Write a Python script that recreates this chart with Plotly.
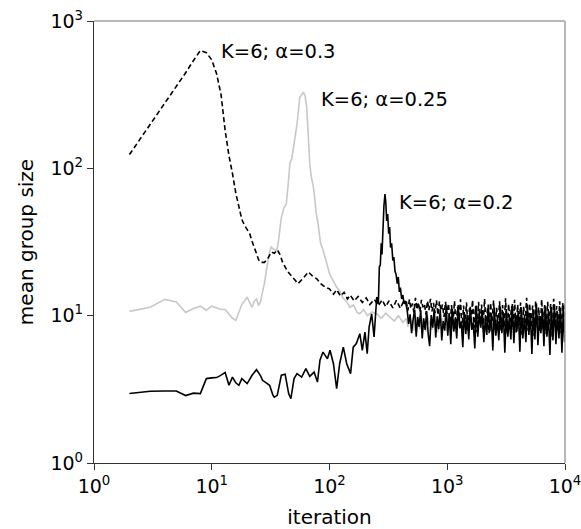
import numpy as np
import plotly.graph_objects as go

# ---------------- data ----------------
# alpha = 0.3 (dashed black), early part
iter_a03 = [2, 3, 4, 5, 6, 7, 8, 9, 10, 11, 12, 13, 14, 15, 16, 17, 18, 19, 20, 21,
            22, 23, 24, 25, 26, 28, 30, 32, 34, 36, 38, 40, 44, 48, 54, 60, 66, 72, 78, 84,
            92, 100, 108, 115, 124, 133, 142, 150, 162, 175, 190, 205, 220, 240, 260, 280,
            300, 320, 345, 370, 400, 425]
size_a03 = [124, 198, 276, 358, 445, 540, 630, 610, 545, 438, 315, 180, 122, 92, 68, 55, 45, 41, 38, 36,
            32, 29, 26, 24, 23, 23, 24.5, 27, 26.5, 28, 26, 23, 20, 18.3, 16.5, 18, 19.8, 18.5, 17.8, 16.5,
            15.6, 15.2, 14.0, 15.0, 13.6, 14.4, 13.0, 13.8, 12.6, 13.5, 12.3, 13.2, 11.9, 12.9, 11.7, 12.8,
            11.5, 12.6, 11.3, 12.7, 11.2, 12.5]

# alpha = 0.25 (light grey), early part
iter_a025 = [2, 3, 4, 5, 6, 7, 8, 9, 10, 11, 12, 13, 14, 15, 16, 17, 18, 19, 20, 21,
             22, 23, 24, 25, 26, 27, 28, 29, 30, 31, 32, 33, 35, 36, 37, 39, 41, 43, 45, 46,
             48, 51, 53, 56, 58, 60, 62, 64, 66, 68, 70, 73, 75, 77, 80, 84, 88, 91, 95, 100,
             105, 110, 115, 122, 130, 140, 149, 160, 172, 181, 195, 210, 230, 252, 275, 300,
             327, 355, 385, 420]
size_a025 = [10.7, 11.4, 12.9, 12.4, 10.5, 11.2, 11.6, 10.9, 11.6, 11.3, 11.0, 11.0, 10.2, 9.6, 9.3, 10.5, 11.9, 12.6, 13.4, 12.2,
             11.4, 12.6, 13.0, 11.7, 12.5, 14.5, 16.5, 20, 23.7, 27, 29.2, 28.5, 27.7, 28.5, 33, 46.5, 54, 57.5, 85, 107,
             118, 163, 200, 304, 320, 329, 310, 260, 170, 107, 88, 74.5, 62, 50, 42, 31, 28, 25, 22.5, 19.3,
             18, 17, 15.6, 14.8, 13.2, 12.4, 11.4, 11.8, 10.5, 10.3, 11.0, 10.0, 10.6, 10.3, 9.6, 10.4,
             9.8, 9.2, 10.0, 9.0]

# alpha = 0.2 (solid black), early part
iter_a02 = [2, 3, 4, 5, 6, 7, 8, 9, 10, 11, 12, 13, 14, 15, 16, 17, 18, 19, 20, 22,
            24, 26, 27, 29, 31, 33, 34, 36, 38, 39, 42, 44, 45, 47, 50, 53, 58, 63, 68, 74,
            79, 83, 88, 96, 101, 108, 115, 122, 131, 140, 151, 159, 169, 181, 190, 200, 209, 217, 228, 239,
            252, 260, 265, 270, 275, 279, 284, 290, 296, 301, 306, 312, 318, 324, 330, 337, 345, 352, 360, 368,
            376, 384, 392, 400, 410, 420, 430, 440]
size_a02 = [2.96, 3.07, 3.08, 3.08, 2.87, 2.98, 2.96, 3.74, 3.78, 3.8, 3.95, 4.12, 3.37, 3.83, 3.5, 3.37, 3.74, 3.6, 3.46, 3.94,
            4.3, 3.9, 3.64, 3.5, 3.37, 2.9, 2.8, 2.88, 3.5, 3.94, 4.0, 3.2, 2.96, 2.73, 3.74, 4.04, 3.83, 4.37, 3.87, 4.14,
            3.54, 4.98, 5.66, 5.1, 5.82, 4.72, 3.2, 4.72, 6.12, 4.72, 4.04, 6.12, 6.46, 7.55, 5.82, 7.74, 5.52, 8.37, 10.3, 7.16,
            13.4, 12.0, 21.4, 22, 31, 26, 42, 56, 67, 58, 44, 49, 36, 40, 29, 31, 23.7, 25, 20, 19,
            16.5, 18.3, 14.5, 15.5, 13.0, 13.8, 12.0, 12.6]

# late iterations, noisy band (two interleaved samplings)
iter_tail = [450, 463, 477, 491, 506, 521, 537, 553, 569, 586,
             604, 622, 640, 659, 679, 699, 720, 742, 764, 787,
             810, 834, 859, 885, 911, 938, 966, 995, 1025, 1055,
             1087, 1119, 1153, 1187, 1222, 1259, 1296, 1335, 1375, 1416,
             1458, 1501, 1546, 1592, 1640, 1689, 1739, 1791, 1844, 1899,
             1956, 2014, 2074, 2136, 2200, 2265, 2333, 2402, 2474, 2548,
             2624, 2702, 2782, 2865, 2951, 3039, 3129, 3223, 3319, 3418,
             3520, 3625, 3733, 3844, 3959, 4077, 4198, 4324, 4453, 4585,
             4722, 4863, 5008, 5157, 5311, 5469, 5632, 5800, 5973, 6151,
             6334, 6523, 6718, 6918, 7124, 7337, 7555, 7781, 8013, 8251,
             8497, 8751, 9011, 9280, 9557, 9842, 10000]

iter_tail_b = [456, 470, 484, 498, 513, 529, 545, 561, 577, 595,
               613, 631, 649, 669, 689, 709, 731, 753, 775, 798,
               822, 846, 872, 898, 924, 952, 980, 1010, 1040, 1071,
               1103, 1136, 1170, 1204, 1240, 1277, 1315, 1355, 1395, 1437,
               1479, 1523, 1569, 1616, 1664, 1714, 1765, 1817, 1871, 1927,
               1985, 2044, 2105, 2168, 2232, 2299, 2367, 2438, 2511, 2586,
               2663, 2742, 2823, 2908, 2995, 3084, 3176, 3271, 3368, 3469,
               3572, 3679, 3788, 3901, 4018, 4137, 4261, 4388, 4519, 4653,
               4792, 4935, 5082, 5234, 5390, 5550, 5716, 5886, 6062, 6242,
               6428, 6620, 6818, 7021, 7230, 7446, 7668, 7897, 8132, 8374,
               8624, 8881, 9145, 9418, 9699, 9921, 10000]

tail_a03 = [12.4, 10.8, 12.9, 11.2, 12.1, 10.5, 13.2, 11.0, 12.3, 10.6,
            12.8, 11.4, 12.0, 10.2, 12.6, 10.9, 13.0, 10.7, 12.2, 10.4,
            12.7, 10.1, 12.5, 10.8, 11.9, 9.8, 12.4, 10.3, 12.1, 8.6,
            11.8, 9.0, 12.6, 8.2, 11.5, 9.4, 12.9, 8.0, 11.7, 8.8,
            12.3, 7.9, 11.2, 9.1, 12.8, 8.3, 11.6, 7.7, 12.4, 8.9,
            11.9, 8.1, 13.0, 8.5, 11.4, 7.6, 12.2, 9.2, 12.7, 8.0,
            11.3, 8.7, 12.5, 7.8, 11.8, 8.4, 13.1, 7.5, 12.0, 9.0,
            11.6, 8.2, 12.8, 7.7, 11.9, 8.6, 12.3, 7.4, 11.5, 8.9,
            13.2, 7.9, 12.1, 8.3, 11.7, 7.3, 12.6, 8.8, 11.4, 7.8,
            12.9, 8.1, 11.8, 7.5, 12.4, 8.7, 12.0, 7.2, 13.0, 8.4,
            11.6, 7.9, 12.5, 7.6, 12.2, 8.5, 11.9]

tail_a025 = [9.6, 8.4, 10.2, 8.9, 9.3, 7.9, 10.0, 8.6, 9.5, 8.1,
             9.9, 8.3, 9.1, 7.8, 10.1, 8.7, 9.4, 8.0, 9.8, 8.5,
             9.2, 7.7, 10.3, 8.2, 9.6, 8.8, 9.0, 7.9, 10.0, 8.4,
             9.7, 8.1, 9.3, 7.6, 10.2, 8.6, 9.5, 8.0, 9.9, 8.3,
             9.1, 7.8, 10.4, 8.5, 9.4, 7.9, 9.8, 8.2, 10.1, 8.7,
             9.2, 7.7, 9.9, 8.4, 9.6, 8.0, 10.3, 8.6, 9.3, 7.8,
             10.0, 8.3, 9.5, 7.9, 9.8, 8.5, 9.1, 7.6, 10.2, 8.2,
             9.7, 8.0, 9.4, 8.6, 10.1, 7.8, 9.6, 8.4, 9.2, 7.9,
             10.3, 8.1, 9.5, 8.7, 9.9, 7.7, 9.4, 8.3, 10.0, 8.5,
             9.1, 7.8, 9.8, 8.2, 10.2, 8.6, 9.3, 7.9, 9.7, 8.4,
             9.6, 8.0, 10.1, 8.3, 9.4, 8.7, 9.0]

tail_a02 = [11.0, 8.8, 10.2, 7.6, 9.4, 11.0, 7.2, 9.8, 8.4, 10.9,
            7.0, 9.6, 8.0, 10.7, 7.5, 6.2, 10.1, 8.3, 11.2, 7.1,
            9.9, 8.1, 11.0, 6.8, 9.2, 7.9, 11.6, 7.3, 10.3, 6.4,
            11.1, 7.8, 9.6, 7.0, 11.8, 8.2, 9.1, 6.1, 10.6, 7.5,
            10.1, 6.9, 11.5, 8.0, 9.0, 6.0, 11.7, 7.2, 10.4, 8.3,
            10.9, 6.6, 9.5, 7.4, 11.9, 7.8, 10.0, 5.8, 11.3, 7.3,
            9.4, 6.8, 11.6, 7.6, 10.5, 5.6, 11.1, 7.2, 9.7, 6.9,
            12.0, 6.5, 10.2, 7.8, 10.8, 5.7, 11.4, 7.0, 9.8, 6.6,
            11.8, 7.4, 10.4, 5.5, 11.0, 6.9, 12.1, 6.3, 10.0, 7.6,
            11.2, 6.2, 11.6, 7.2, 10.3, 5.4, 11.5, 6.8, 11.9, 6.4,
            10.6, 7.0, 11.3, 5.6, 11.7, 6.6, 9.5]

labels = ["K=6; α=0.3", "K=6; α=0.25", "K=6; α=0.2"]
label_x = [11.5, 81, 375]
label_y = [625, 295, 59]

x_tickvals = [1, 10, 100, 1000, 10000]
x_ticktext = ["10<sup>0</sup>", "10<sup>1</sup>", "10<sup>2</sup>", "10<sup>3</sup>", "10<sup>4</sup>"]
y_tickvals = [1, 10, 100, 1000]
y_ticktext = ["10<sup>0</sup>", "10<sup>1</sup>", "10<sup>2</sup>", "10<sup>3</sup>"]

# ---------------- figure ----------------
FONT = "DejaVu Sans"
fig = go.Figure()

fig.add_trace(go.Scatter(x=iter_a025 + iter_tail, y=size_a025 + tail_a025, mode="lines",
                         line=dict(color="#c8c8c8", width=1.6), showlegend=False))
fig.add_trace(go.Scatter(x=iter_a03 + iter_tail, y=size_a03 + tail_a03, mode="lines",
                         line=dict(color="black", width=1.6, dash="5px,3px"), showlegend=False))
fig.add_trace(go.Scatter(x=iter_a02 + iter_tail_b, y=size_a02 + tail_a02, mode="lines",
                         line=dict(color="black", width=1.6), showlegend=False))

for t, lx, ly in zip(labels, label_x, label_y):
    fig.add_annotation(x=np.log10(lx), y=np.log10(ly), text=t, showarrow=False,
                       xanchor="left", yanchor="middle",
                       font=dict(family=FONT, size=19.5, color="black"))

# top and right frame lines (light grey)
fig.add_shape(type="line", xref="paper", yref="paper", x0=0, x1=1, y0=1, y1=1,
              line=dict(color="#a0a0a0", width=1.5))
fig.add_shape(type="line", xref="paper", yref="paper", x0=1, x1=1, y0=0, y1=1,
              line=dict(color="#a0a0a0", width=1.5))

axis_common = dict(showgrid=False, zeroline=False, showline=True, linecolor="#333333", linewidth=1.3,
                   ticks="outside", ticklen=6, tickwidth=1.2, tickcolor="#333333",
                   ticklabeloverflow="allow",
                   tickfont=dict(family=FONT, size=19, color="black"))

fig.update_xaxes(type="log", range=[0, 4], tickvals=x_tickvals, ticktext=x_ticktext,
                 title=dict(text="iteration", font=dict(family=FONT, size=20, color="black"), standoff=14),
                 **axis_common)
fig.update_yaxes(type="log", range=[0, 3], tickvals=y_tickvals, ticktext=y_ticktext,
                 title=dict(text="mean group size", font=dict(family=FONT, size=20, color="black"), standoff=11),
                 **axis_common)

fig.update_layout(width=581, height=529, margin=dict(l=94, r=16, t=21, b=66, autoexpand=False),
                  plot_bgcolor="white", paper_bgcolor="white",
                  font=dict(family=FONT, color="black"))

fig.write_html("out.html", config={"displayModeBar": False},
               post_script="document.body.style.margin='0';document.body.style.overflow='hidden';")
